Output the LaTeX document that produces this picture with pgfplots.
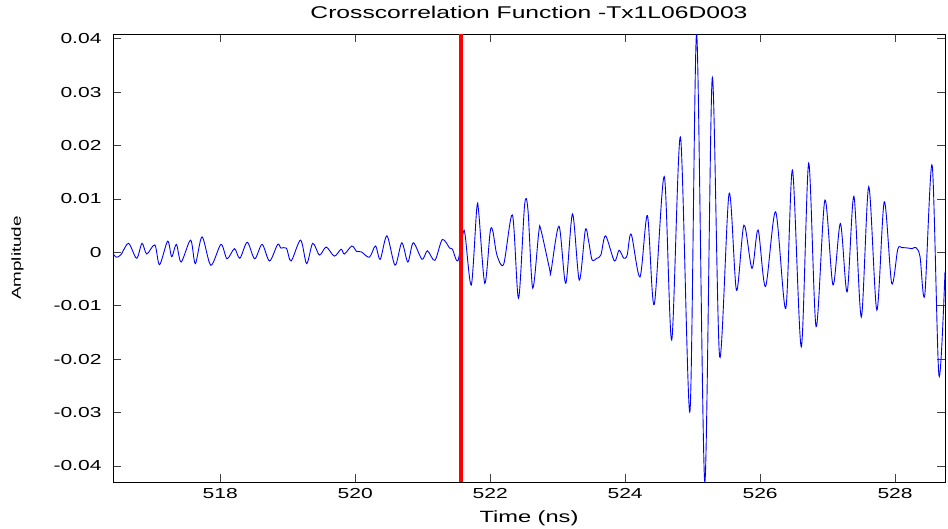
\documentclass[border=0pt]{standalone}
\usepackage{fontspec}
\setmainfont{Liberation Sans}[FakeStretch=1.45]
\usepackage{pgfplots}
\pgfplotsset{compat=1.18}
\definecolor{mblue}{RGB}{0,0,255}
\definecolor{mred}{RGB}{255,0,0}
\begin{document}
\begin{tikzpicture}
\path[use as bounding box] (-113pt,-46pt) rectangle (835pt,482pt);
\begin{axis}[
  at={(0pt,0pt)}, anchor=south west,
  scale only axis, width=832pt, height=448pt,
  xmin=516.41, xmax=528.74, ymin=-0.043, ymax=0.0409,
  xtick={518,520,522,524,526,528},
  ytick={-0.04,-0.03,-0.02,-0.01,0,0.01,0.02,0.03,0.04},
  yticklabels={-0.04,-0.03,-0.02,-0.01,0,0.01,0.02,0.03,0.04},
  scaled y ticks=false, scaled x ticks=false,
  /pgf/number format/assume math mode=true,
  tick align=inside, major tick length=8pt,
  tick style={black!75, line width=0.8pt},
  axis line style={black, line width=0.9pt},
  tick label style={font=\fontsize{14.5}{16}\selectfont},
  yticklabel style={xshift=-8pt},
  xticklabel style={yshift=-3pt},
  title={Crosscorrelation Function -Tx1L06D003},
  title style={at={(axis description cs:0.5,1)}, anchor=base, yshift=10pt, font=\fontsize{17}{19}\selectfont},
  xlabel={Time (ns)},
  xlabel style={at={(axis description cs:0.5,0)}, anchor=base, yshift=-40pt, font=\fontsize{16.3}{18}\selectfont},
  ylabel={Amplitude},
  ylabel style={at={(axis description cs:-0.1148,0.5)}, anchor=center, font=\fontsize{13}{14}\selectfont},
]
\addplot[mblue, line width=0.9pt, smooth, tension=0.5] coordinates {
(516.41,-0.0002) (516.46,-0.0009) (516.53,-0.0004) (516.64,0.0017) (516.76,-0.0011)
(516.84,0.0017) (516.91,-0.0003) (517.03,0.0014) (517.10,-0.0023) (517.22,0.0021)
(517.28,-0.0008) (517.35,0.0015) (517.42,-0.0018) (517.56,0.0023) (517.63,-0.0021)
(517.73,0.0029) (517.86,-0.0024) (518.01,0.0015) (518.10,-0.0012) (518.21,0.0007)
(518.29,-0.0011) (518.40,0.0019) (518.51,-0.0012) (518.62,0.0015) (518.73,-0.0016)
(518.85,0.0015) (518.90,0.0008) (518.98,0.0008) (519.05,-0.0016) (519.19,0.0023)
(519.28,-0.0021) (519.37,0.0017) (519.47,-0.0005) (519.57,0.0010) (519.69,-0.0007)
(519.79,0.0006) (519.84,-0.0003) (519.95,0.0012) (520.02,0.0002) (520.09,0.0001)
(520.21,-0.0009) (520.30,0.0012) (520.37,-0.0013) (520.47,0.0031) (520.59,-0.0024)
(520.69,0.0018) (520.78,-0.0018) (520.86,0.0018) (520.99,-0.0013) (521.07,0.0003)
(521.18,-0.0015) (521.29,0.0024) (521.40,0.0008) (521.44,0.0006) (521.52,-0.0016)
(521.60,0.0037) (521.63,0.0031) (521.72,-0.0061) (521.80,0.0081) (521.83,0.0075)
(521.92,-0.0058) (522.00,0.0039) (522.04,0.0039) (522.10,-0.0005) (522.20,-0.0022)
(522.33,0.0070) (522.42,-0.0086) (522.51,0.0089) (522.56,0.0079) (522.63,-0.0067)
(522.72,0.0038) (522.75,0.0043) (522.88,-0.0031) (522.90,-0.0036) (523.02,0.0049)
(523.12,-0.0058) (523.22,0.0072) (523.32,-0.0052) (523.41,0.0042) (523.46,0.0020)
(523.51,-0.0014) (523.58,-0.0011) (523.64,-0.0005) (523.71,0.0031) (523.84,-0.0016)
(523.91,0.0004) (523.98,-0.0011) (524.03,-0.0005) (524.09,0.0034) (524.22,-0.0046)
(524.33,0.0069) (524.43,-0.0098) (524.58,0.0142) (524.69,-0.0164) (524.82,0.0216)
(524.96,-0.0298) (525.06,0.0409) (525.18,-0.0430) (525.29,0.0326) (525.40,-0.0195)
(525.54,0.0110) (525.65,-0.0071) (525.76,0.0051) (525.88,-0.0030) (525.97,0.0042)
(526.08,-0.0064) (526.23,0.0076) (526.38,-0.0105) (526.48,0.0154) (526.61,-0.0177)
(526.72,0.0167) (526.83,-0.0139) (526.96,0.0098) (527.08,-0.0061) (527.19,0.0054)
(527.29,-0.0074) (527.39,0.0105) (527.50,-0.0121) (527.61,0.0123) (527.73,-0.0108)
(527.84,0.0095) (527.95,-0.0058) (528.04,0.0006) (528.10,0.0009) (528.20,0.0008)
(528.25,0.0007) (528.31,0.0009) (528.37,-0.0008) (528.44,-0.0080) (528.55,0.0163)
(528.65,-0.0230) (528.74,-0.0036)
};
\addplot[mred, line width=4pt] coordinates {(521.56,-0.043) (521.56,0.0409)};
\end{axis}
\end{tikzpicture}
\end{document}
